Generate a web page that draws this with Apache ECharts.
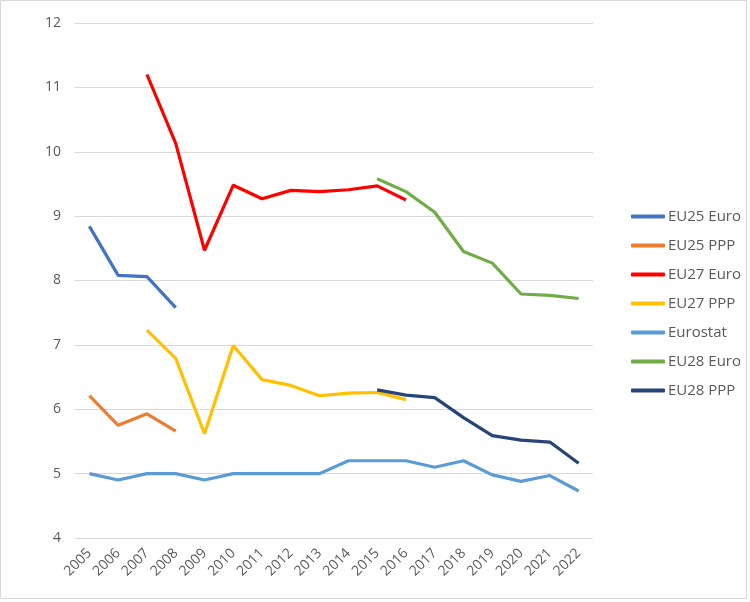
<!DOCTYPE html>
<html>
<head>
<meta charset="utf-8">
<script src="https://cdn.jsdelivr.net/npm/echarts@6/dist/echarts.min.js"></script>
<style>
  html, body { margin: 0; padding: 0; background: #fff; }
  #main { width: 750px; height: 602px; }
</style>
</head>
<body>
<div id="main"></div>
<script>
"use strict";

// 年份
const years = ['2005', '2006', '2007', '2008', '2009', '2010', '2011', '2012', '2013',
  '2014', '2015', '2016', '2017', '2018', '2019', '2020', '2021', '2022'];

const eu25Euro = [8.84, 8.08, 8.06, 7.58, null, null, null, null, null,
  null, null, null, null, null, null, null, null, null];
const eu25Ppp = [6.21, 5.75, 5.93, 5.66, null, null, null, null, null,
  null, null, null, null, null, null, null, null, null];
const eu27Euro = [null, null, 11.2, 10.13, 8.47, 9.48, 9.27, 9.4, 9.38,
  9.41, 9.47, 9.25, null, null, null, null, null, null];
const eu27Ppp = [null, null, 7.23, 6.79, 5.62, 6.99, 6.46, 6.37, 6.21,
  6.25, 6.26, 6.15, null, null, null, null, null, null];
const eurostat = [5.0, 4.9, 5.0, 5.0, 4.9, 5.0, 5.0, 5.0, 5.0,
  5.2, 5.2, 5.2, 5.1, 5.2, 4.98, 4.88, 4.97, 4.73];
const eu28Euro = [null, null, null, null, null, null, null, null, null,
  null, 9.58, 9.38, 9.06, 8.45, 8.27, 7.79, 7.77, 7.72];
const eu28Ppp = [null, null, null, null, null, null, null, null, null,
  null, 6.3, 6.22, 6.18, 5.87, 5.59, 5.52, 5.49, 5.16];

const seriesNames = ['EU25 Euro', 'EU25 PPP', 'EU27 Euro', 'EU27 PPP', 'Eurostat', 'EU28 Euro', 'EU28 PPP'];
const seriesData = [eu25Euro, eu25Ppp, eu27Euro, eu27Ppp, eurostat, eu28Euro, eu28Ppp];
const colors = ['#4472C4', '#ED7D31', '#FF0000', '#FFC000', '#5B9BD5', '#70AD47', '#264478'];

let myChart = echarts.init(document.getElementById('main'));

let option = {
  animation: false,
  color: colors,
  graphic: [{ // 外框
    type: 'rect',
    shape: { x: 0.5, y: 0.5, width: 746, height: 598 },
    style: { fill: 'none', stroke: '#d9d9d9', lineWidth: 1 },
    silent: true,
  }],
  grid: {
    left: 75,
    right: 157,
    top: 23,
    bottom: 64,
  },
  legend: { // 图例
    orient: 'vertical',
    left: 631,
    top: 209,
    padding: 0,
    itemWidth: 34,
    itemHeight: 4,
    itemGap: 14,
    icon: 'roundRect',
    textStyle: {
      color: '#595959',
      fontSize: 15,
      fontFamily: 'Open Sans',
      lineHeight: 14,
      padding: [0, 0, 0, -2],
    },
    data: seriesNames,
  },
  xAxis: {
    type: 'category',
    data: years,
    boundaryGap: true,
    axisLine: { show: false },
    axisTick: { show: false },
    axisLabel: {
      rotate: 45,
      color: '#595959',
      fontSize: 14,
      fontFamily: 'Open Sans',
      margin: 13,
    },
  },
  yAxis: {
    type: 'value',
    min: 4,
    max: 12,
    interval: 1,
    axisLine: { show: false },
    axisTick: { show: false },
    axisLabel: {
      color: '#595959',
      fontSize: 14,
      fontFamily: 'Open Sans',
      margin: 14,
    },
    splitLine: {
      lineStyle: { color: '#d9d9d9', width: 1 },
    },
  },
  series: seriesNames.map((name, i) => ({
    name: name,
    type: 'line',
    data: seriesData[i],
    showSymbol: false,
    symbol: 'none',
    connectNulls: false,
    lineStyle: { width: 3.2, color: colors[i] },
    itemStyle: { color: colors[i] },
  })),
};

myChart.setOption(option);
</script>
</body>
</html>
